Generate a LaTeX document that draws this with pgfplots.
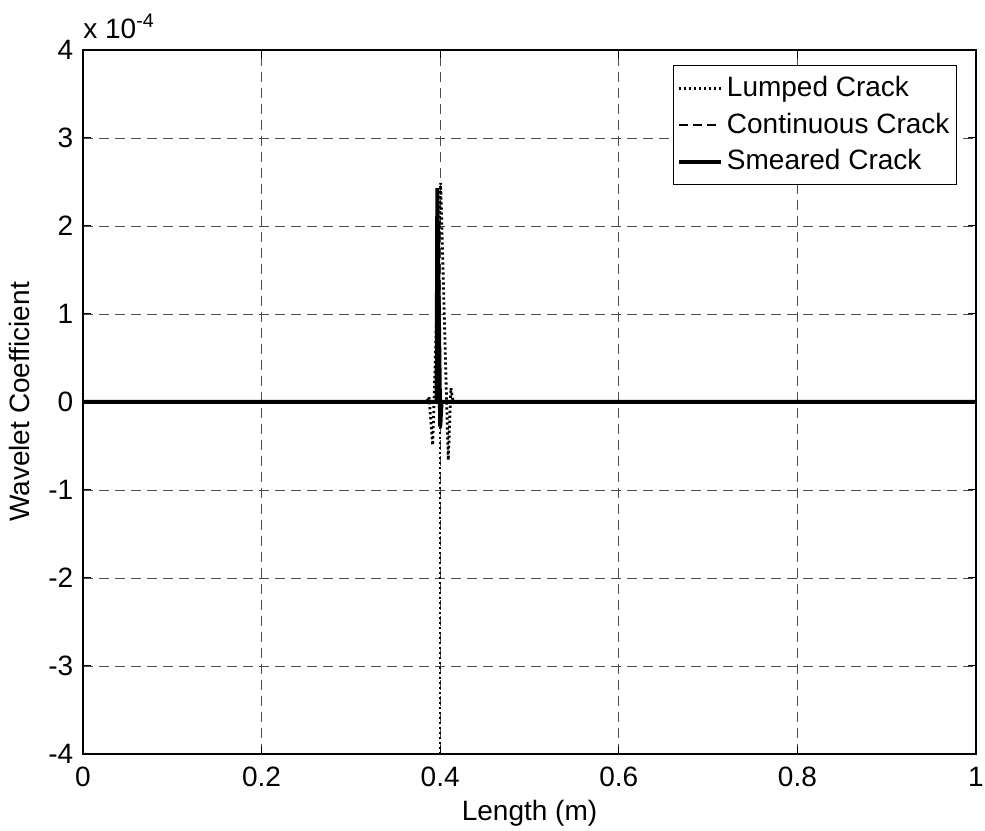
\documentclass[border=0pt]{standalone}
\usepackage{fontspec}
\setmainfont{Liberation Sans}
\usepackage{pgfplots}
\pgfplotsset{compat=1.18}
\begin{document}
\fontsize{14}{16.8}\selectfont
\begin{tikzpicture}
\begin{axis}[
  scale only axis,
  width=446.5pt, height=352pt,
  xmin=0, xmax=1, ymin=-4e-4, ymax=4e-4,
  xtick={0,0.2,0.4,0.6,0.8,1},
  xticklabels={0,0.2,0.4,0.6,0.8,1},
  ytick={-4e-4,-3e-4,-2e-4,-1e-4,0,1e-4,2e-4,3e-4,4e-4},
  scaled y ticks=base 10:4,
  ytick scale label code/.code={x 10\textsuperscript{#1}},
  every y tick scale label/.style={at={(rel axis cs:0,1)}, anchor=south west, inner sep=0pt, yshift=5.5pt},
  /pgf/number format/assume math mode=true,
  tick label style={font=\fontsize{14}{16.8}\selectfont},
  xticklabel style={yshift=-1.8pt},
  tick align=inside,
  major tick length=4pt,
  tick style={black, line width=0.5pt},
  axis line style={line width=0.6pt},
  grid=major,
  major grid style={black!70, line width=0.45pt, dash pattern=on 5pt off 3pt},
  xlabel={Length (m)},
  xlabel style={yshift=3pt},
  ylabel={Wavelet Coefficient},
  label style={font=\fontsize{14}{16.8}\selectfont},
  legend style={at={(rel axis cs:0.9787,0.9787)}, anchor=north east, draw=black, line width=0.5pt,
    font=\fontsize{14}{16.8}\selectfont, row sep=2pt, inner xsep=1.5pt, inner ysep=3.5pt, cells={anchor=west}},
  legend image code/.code={\draw[#1] (-2pt,0pt) -- (19pt,0pt);},
  clip=true,
]
\addplot[black, line width=1.4pt, dash pattern=on 1.1pt off 1.4pt] coordinates {
 (0,0) (0.385,0) (0.3875,6e-6) (0.3916,-4.9e-5) (0.4005,2.49e-4) (0.409,-6.6e-5) (0.412,1.6e-5) (0.4145,0) (1,0)
};
\addlegendentry{Lumped Crack}
\addplot[black, line width=1pt, dash pattern=on 4.5pt off 2.5pt] coordinates {
 (0,0) (0.397,0) (0.3985,2.8e-5) (0.4005,-3.2e-5) (0.402,0) (1,0)
};
\addlegendentry{Continuous Crack}
\addplot[black, line width=2pt] coordinates {
 (0,0) (0.396,0) (0.3968,2.43e-4) (0.4,-2.8e-5) (0.4015,0) (1,0)
};
\addlegendentry{Smeared Crack}
\addplot[black, line width=1.4pt, dash pattern=on 1.1pt off 1.4pt, forget plot] coordinates {
 (0.3998,0) (0.3998,-4.6e-4)
};
\end{axis}
\pgfresetboundingbox
\path ([xshift=-41.5pt,yshift=-38.5pt]current axis.south west) rectangle ([xshift=4.5pt,yshift=25pt]current axis.north east);
\end{tikzpicture}
\end{document}
